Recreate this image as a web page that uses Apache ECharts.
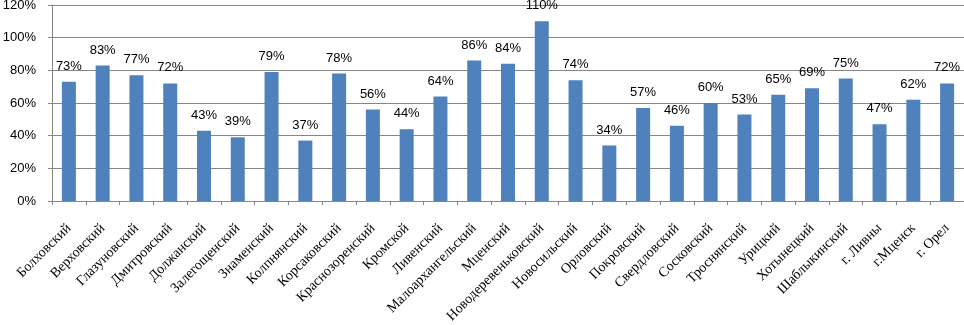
<!DOCTYPE html>
<html>
<head>
<meta charset="utf-8">
<script src="https://cdn.jsdelivr.net/npm/echarts@6/dist/echarts.min.js"></script>
<style>
  html, body { margin: 0; padding: 0; background: #fff; }
  #chart { width: 964px; height: 325px; }
</style>
</head>
<body>
<div id="chart"></div>
<script>
// Districts and cities of the region
const districts = [
  'Болховский', 'Верховский', 'Глазуновский', 'Дмитровский', 'Должанский',
  'Залегощенский', 'Знаменский', 'Колпнянский', 'Корсаковский', 'Краснозоренский',
  'Кромской', 'Ливенский', 'Малоархангельский', 'Мценский', 'Новодеревеньковский',
  'Новосильский', 'Орловский', 'Покровский', 'Свердловский', 'Сосковский',
  'Троснянский', 'Урицкий', 'Хотынецкий', 'Шаблыкинский', 'г. Ливны',
  'г.Мценск', 'г. Орел'
];

// Percentage per district
const percentValues = [
  73, 83, 77, 72, 43,
  39, 79, 37, 78, 56,
  44, 64, 86, 84, 110,
  74, 34, 57, 46, 60,
  53, 65, 69, 75, 47,
  62, 72
];

// Value axis range and step, in percent
const yMin = 0;
const yMax = 120;
const yStep = 20;

const gridGray = '#868686';

const chart = echarts.init(document.getElementById('chart'), null, { renderer: 'canvas' });

chart.setOption({
  animation: false,
  backgroundColor: '#ffffff',
  grid: {
    left: 52, right: 0, top: 5, bottom: 124,
    containLabel: false,
    outerBoundsMode: 'none'
  },
  xAxis: {
    type: 'category',
    data: districts,
    boundaryGap: true,
    axisLine: { show: true, lineStyle: { color: gridGray, width: 1 } },
    axisTick: { show: true, alignWithLabel: false, length: 4, lineStyle: { color: gridGray } },
    axisLabel: {
      interval: 0,
      rotate: 45,
      margin: 25,
      color: '#000',
      fontFamily: 'Liberation Serif',
      fontSize: 14
    }
  },
  yAxis: {
    type: 'value',
    min: yMin,
    max: yMax,
    interval: yStep,
    axisLine: { show: true, lineStyle: { color: gridGray, width: 1 } },
    axisTick: { show: true, inside: false, length: 4, lineStyle: { color: gridGray } },
    splitLine: { show: true, lineStyle: { color: gridGray, width: 1 } },
    axisLabel: {
      margin: 16,
      color: '#000',
      fontFamily: 'Liberation Sans',
      fontSize: 13,
      formatter: v => v + '%'
    }
  },
  series: [{
    type: 'bar',
    data: percentValues,
    barWidth: 14,
    itemStyle: { color: '#4F81BD' },
    label: {
      show: true,
      position: 'top',
      distance: 9,
      color: '#000',
      fontFamily: 'Liberation Sans',
      fontSize: 13,
      formatter: p => p.value + '%'
    }
  }]
});
</script>
</body>
</html>
